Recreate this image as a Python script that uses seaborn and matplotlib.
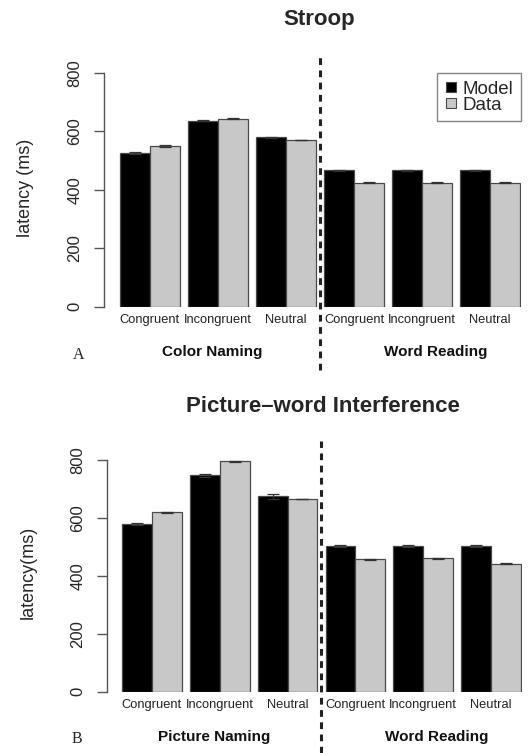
import numpy as np
import pandas as pd
import matplotlib
matplotlib.use("Agg")
import matplotlib.pyplot as plt
from matplotlib.lines import Line2D
import seaborn as sns

# ---------------- data ----------------
conditions = ["Congruent", "Incongruent", "Neutral"]
series = ["Model", "Data"]

stroop_title = "Stroop"
stroop_tasks = ["Color Naming", "Word Reading"]
stroop_model = [526, 637, 580, 467, 467, 467]
stroop_data = [550, 643, 570, 425, 425, 425]
stroop_model_err = [2, 2, 2, 2, 2, 2]
stroop_data_err = [2, 2, 1, 1, 1, 1]

pwi_title = "Picture\u2013word Interference"
pwi_tasks = ["Picture Naming", "Word Reading"]
pwi_model = [579, 747, 675, 504, 504, 504]
pwi_data = [620, 795, 665, 457, 460, 442]
pwi_model_err = [3, 4, 9, 3, 3, 3]
pwi_data_err = [2, 2, 1, 1, 1, 2]

yticks = [0, 200, 400, 600, 800]

# ---------------- style ----------------
sns.set_theme(style="white")
plt.rcParams["font.family"] = ["Liberation Sans", "DejaVu Sans"]

BLACK = "#000000"
GRAY = "#c8c8c8"
EDGE = "#4a4a4a"
AX = "#555555"

fig = plt.figure(figsize=(5.31, 7.53), dpi=100)
W, H = 531.0, 753.0


def make_df(tasks, model, data):
    rows = []
    keys = []
    for i, t in enumerate(tasks):
        for j, c in enumerate(conditions):
            k = f"{t}|{c}"
            keys.append(k)
            idx = i * len(conditions) + j
            rows.append((k, "Model", model[idx]))
            rows.append((k, "Data", data[idx]))
    return pd.DataFrame(rows, columns=["key", "series", "latency"]), keys


def panel(rect_px, xlim, title, title_xy, tasks, model, data, merr, derr,
          ylabel, ylabel_xy, letter, letter_xy, task_x, task_y_px,
          dash_range_px, legend):
    left, top, right, bottom = rect_px
    ax = fig.add_axes([left / W, 1 - bottom / H, (right - left) / W, (bottom - top) / H])
    df, keys = make_df(tasks, model, data)
    sns.barplot(data=df, x="key", y="latency", hue="series", order=keys,
                hue_order=series, palette=[BLACK, GRAY], width=0.88,
                edgecolor=EDGE, linewidth=0.9, errorbar=None, ax=ax,
                legend=False, saturation=1)
    # error bars from the drawn bars
    for cont, errs in zip(ax.containers, [merr, derr]):
        xs = [p.get_x() + p.get_width() / 2 for p in cont.patches]
        hs = [p.get_height() for p in cont.patches]
        ax.errorbar(xs, hs, yerr=errs, fmt="none", ecolor="#333333",
                    elinewidth=0.9, capsize=4.5, capthick=0.9, clip_on=False, zorder=5)
    ax.set_xlim(*xlim)
    ax.set_ylim(0, 800)
    ax.set_xlabel("")
    ax.set_ylabel("")
    for s in ["top", "right", "bottom"]:
        ax.spines[s].set_visible(False)
    ax.spines["left"].set_bounds(0, 800)
    ax.spines["left"].set_color(AX)
    ax.spines["left"].set_linewidth(1.0)
    ax.set_yticks(yticks)
    ax.set_yticklabels([str(v) for v in yticks], rotation=90, va="center")
    ax.tick_params(axis="y", direction="out", length=7.5, width=1.0, color=AX,
                   labelsize=12, pad=8, left=True)
    ax.set_xticks(range(len(keys)))
    ax.set_xticklabels(conditions * len(tasks), fontsize=9.3, color="#222222")
    ax.tick_params(axis="x", length=0, pad=5)
    # separator between tasks
    ymin = (bottom - dash_range_px[1]) / (bottom - top)
    ymax = (bottom - dash_range_px[0]) / (bottom - top)
    ax.axvline(len(conditions) - 0.5, ymin=ymin, ymax=ymax, color="#222222",
               linestyle=(0, (2.2, 1.8)), linewidth=2.2, clip_on=False)
    # task labels
    for t, tx in zip(tasks, task_x):
        ax.text(tx, 1 - (task_y_px - top) / (bottom - top), t,
                transform=ax.get_xaxis_transform(), ha="center", va="center",
                fontsize=11, fontweight="bold", color="#111111")
    if legend:
        handles = [Line2D([0], [0], marker="s", linestyle="none", markersize=6.5,
                          markerfacecolor=c, markeredgecolor=EDGE, markeredgewidth=0.8)
                   for c in [BLACK, GRAY]]
        leg = ax.legend(handles, series, loc="upper right", bbox_to_anchor=(1.0, 1.0),
                        borderaxespad=0, fontsize=13.5, frameon=True, fancybox=False,
                        handlelength=0.7, handletextpad=0.3, labelspacing=-0.05,
                        borderpad=0.4)
        leg.get_frame().set_edgecolor("#666666")
        leg.get_frame().set_linewidth(1.0)
    fig.text(title_xy[0] / W, 1 - title_xy[1] / H, title, ha="center", va="center",
             fontsize=16, fontweight="bold")
    fig.text(ylabel_xy[0] / W, 1 - ylabel_xy[1] / H, ylabel, ha="center", va="center",
             rotation=90, fontsize=13)
    fig.text(letter_xy[0] / W, 1 - letter_xy[1] / H, letter, ha="center", va="center",
             fontsize=11.5, family=["Liberation Serif", "DejaVu Serif"])
    return ax


panel((104, 73, 521, 306.7), (-0.675, 5.455), stroop_title, (319.5, 20),
      stroop_tasks, stroop_model, stroop_data, stroop_model_err, stroop_data_err,
      "latency (ms)", (26, 187.5), "A", (79, 355), (0.92, 4.2), 352,
      (54, 370), True)

panel((107, 460, 522, 691.7), (-0.661, 5.455), pwi_title, (322.5, 406.7),
      pwi_tasks, pwi_model, pwi_data, pwi_model_err, pwi_data_err,
      "latency(ms)", (28, 572.7), "B", (77, 739), (0.92, 4.2), 737,
      (441, 753), False)

fig.savefig("out.png", dpi=100, facecolor="white")
